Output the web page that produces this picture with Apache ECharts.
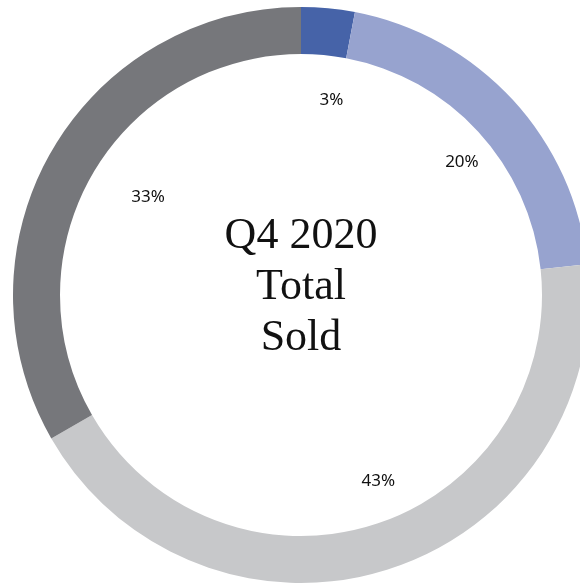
<!DOCTYPE html>
<html>
<head>
<meta charset="utf-8">
<script src="https://cdn.jsdelivr.net/npm/echarts@6/dist/echarts.min.js"></script>
<style>
  html, body { margin: 0; padding: 0; background: #fff; }
  #chart { width: 580px; height: 587px; }
</style>
</head>
<body>
<div id="chart"></div>
<script>
var categories = ['A', 'B', 'C', 'D'];
var shares = [3.0, 20.3, 43.4, 33.3];
var colors = ['#4663a8', '#97a3cf', '#c7c8ca', '#76777b'];
var centerLines = ['Q4 2020', 'Total', 'Sold'];

var data = categories.map(function (c, i) {
    return { name: c, value: shares[i], itemStyle: { color: colors[i] } };
});

var chart = echarts.init(document.getElementById('chart'));

chart.setOption({
    animation: false,
    series: [
        {
            type: 'pie',
            center: [301, 295],
            radius: [241, 288],
            startAngle: 90,
            silent: true,
            label: { show: false },
            labelLine: { show: false },
            data: data
        },
        {
            // transparent copy, only used to place the percentage labels
            type: 'pie',
            center: [301, 295],
            radius: [150, 236],
            startAngle: 90,
            silent: true,
            itemStyle: { color: 'rgba(0,0,0,0)' },
            label: {
                show: true,
                position: 'inside',
                color: '#111',
                fontFamily: 'Noto Sans',
                fontSize: 17,
                formatter: function (p) { return Math.round(p.value) + '%'; }
            },
            labelLayout: { align: 'left' },
            labelLine: { show: false },
            data: categories.map(function (c, i) {
                return { name: c, value: shares[i] };
            })
        }
    ],
    graphic: [{
        type: 'text',
        x: 301,
        y: 287,
        style: {
            text: centerLines.join('\n'),
            fontFamily: 'Liberation Serif',
            fontSize: 44,
            lineHeight: 51,
            fill: '#111',
            align: 'center',
            verticalAlign: 'middle'
        }
    }]
});
</script>
</body>
</html>
